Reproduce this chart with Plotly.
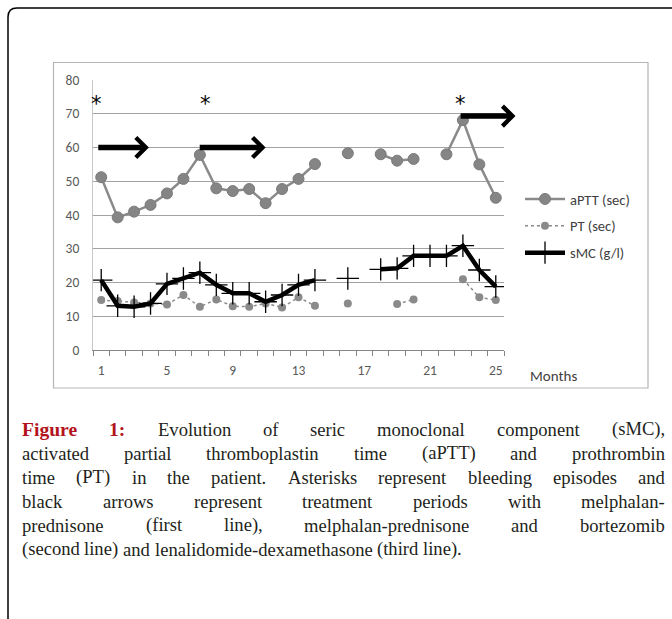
import plotly.graph_objects as go

# ---------------- data ----------------
months = list(range(1, 26))
aptt = [51.2, 39.3, 41.0, 43.0, 46.4, 50.7, 57.8, 47.9, 47.1, 47.7, 43.5, 47.7, 50.7, 55.1,
        None, 58.3, None, 58.0, 56.1, 56.6, None, 58.0, 68.1, 55.0, 45.1]
pt = [14.8, 14.5, 14.1, 13.8, 13.5, 16.3, 12.8, 15.0, 13.0, 12.8, 13.8, 12.6, 15.6, 13.1,
      None, 13.8, None, None, 13.6, 15.0, None, None, 21.0, 15.6, 14.8]
smc = [20.7, 13.1, 12.8, 13.8, 19.6, 21.2, 22.9, 19.3, 16.8, 16.8, 14.3, 16.3, 19.3, 20.7,
       None, 21.2, None, 23.9, 24.2, 27.9, 27.9, 27.9, 30.9, 23.7, 18.8]

bleed_x = [0.73, 7.32, 22.87]
bleed_y = [74.3, 74.3, 74.3]

arrow_start = [0.73, 6.9, 22.77]
arrow_end = [3.9, 11.0, 26.2]
arrow_y = [60, 60, 69.3]

x_tick_vals = [1, 5, 9, 13, 17, 21, 25]
y_tick_vals = [0, 10, 20, 30, 40, 50, 60, 70, 80]

series_names = ["aPTT (sec)", "PT (sec)", "sMC (g/l)"]

caption_lines = [
    "Figure 1: Evolution of seric monoclonal component (sMC),",
    "activated partial thromboplastin time (aPTT) and prothrombin",
    "time (PT) in the patient. Asterisks represent bleeding episodes and",
    "black arrows represent treatment periods with melphalan-",
    "prednisone (first line), melphalan-prednisone and bortezomib",
    "(second line) and lenalidomide-dexamethasone (third line).",
]
caption_bold_words = 2

# ---------------- geometry helpers ----------------
W, H = 672, 619
L, R, T, B = 93, 504, 80, 350


def pxx(x):
    return (x - L) / (R - L)


def pyy(y):
    return (B - y) / (B - T)


SANS = "Carlito, Lato, sans-serif"
TICK_FONT = dict(family=SANS, size=13.5, color="#595959")
GRAY = "#8a8a8a"

fig = go.Figure()

fig.add_trace(go.Scatter(
    x=months, y=aptt, name=series_names[0], mode="lines+markers",
    line=dict(color=GRAY, width=2.5),
    marker=dict(color="#858585", size=11, line=dict(color="#7a7a7a", width=1)),
    connectgaps=False, legendgroup="a"))
fig.add_trace(go.Scatter(
    x=months, y=pt, name=series_names[1], mode="lines+markers",
    line=dict(color=GRAY, width=1.5, dash="dot"),
    marker=dict(color="#8a8a8a", size=8),
    connectgaps=False, legendgroup="b"))
fig.add_trace(go.Scatter(
    x=months, y=smc, name=series_names[2], mode="lines+markers",
    line=dict(color="black", width=4.5),
    marker=dict(symbol="cross-thin", size=16, color="black", line=dict(color="black", width=1.3)),
    connectgaps=False, legendgroup="c"))

annotations = []

# bleeding episodes (asterisks)
for bx, by in zip(bleed_x, bleed_y):
    annotations.append(dict(x=bx, y=by, xref="x", yref="y", text="*", showarrow=False,
                            font=dict(family="DejaVu Sans", size=21, color="black"),
                            yshift=-5))

# treatment arrows
for s, e, y in zip(arrow_start, arrow_end, arrow_y):
    annotations.append(dict(x=e, y=y, ax=s, ay=y, xref="x", yref="y", axref="x", ayref="y",
                            text="", showarrow=True, arrowhead=4, arrowwidth=5.5,
                            arrowsize=0.7, arrowcolor="black", standoff=0))

# Months label
annotations.append(dict(x=pxx(528), y=pyy(376), xref="paper", yref="paper", text="Months",
                        xanchor="left", yanchor="middle", showarrow=False,
                        font=dict(family=SANS, size=15, color="#404040")))

# ---------------- caption (justified) ----------------
TR = {' ': 250, '!': 333, '(': 333, ')': 333, ',': 250, '-': 333, '.': 250, '/': 278, ':': 278,
      'A': 722, 'B': 667, 'C': 667, 'D': 722, 'E': 611, 'F': 556, 'G': 722, 'H': 722, 'I': 333,
      'J': 389, 'K': 722, 'L': 611, 'M': 889, 'N': 722, 'O': 722, 'P': 556, 'Q': 722, 'R': 667,
      'S': 556, 'T': 611, 'U': 722, 'V': 722, 'W': 944, 'X': 722, 'Y': 722, 'Z': 611,
      'a': 444, 'b': 500, 'c': 444, 'd': 500, 'e': 444, 'f': 333, 'g': 500, 'h': 500, 'i': 278,
      'j': 278, 'k': 500, 'l': 278, 'm': 778, 'n': 500, 'o': 500, 'p': 500, 'q': 500, 'r': 333,
      's': 389, 't': 278, 'u': 500, 'v': 500, 'w': 722, 'x': 500, 'y': 500, 'z': 444}
TB = dict(TR)
TB.update({'F': 611, 'g': 500, 'u': 556, 'r': 444, 'e': 444, ':': 333, 'i': 278, '1': 500})

CAP_SIZE = 18.6
CAP_FONT = "Liberation Serif"
cap_left, cap_right = 21, 664
cap_y0, cap_dy = 429, 24


def word_w(w, bold):
    tbl = TB if bold else TR
    return sum(tbl.get(c, 500) for c in w) / 1000 * (CAP_SIZE + (1 if bold else 0))


for li, line in enumerate(caption_lines):
    words = line.split(" ")
    yc = cap_y0 + li * cap_dy
    bold_flags = [(li == 0 and wi < caption_bold_words) for wi in range(len(words))]
    widths = [word_w(w, b) for w, b in zip(words, bold_flags)]
    if li == len(caption_lines) - 1:
        gap = TR[' '] / 1000 * CAP_SIZE
    else:
        gap = (cap_right - cap_left - sum(widths)) / (len(words) - 1)
    xpos = cap_left
    for w, b, ww in zip(words, bold_flags, widths):
        annotations.append(dict(
            x=pxx(xpos), y=pyy(yc), xref="paper", yref="paper", xanchor="left", yanchor="middle",
            text=f"<b>{w}</b>" if b else w, showarrow=False, borderpad=0,
            font=dict(family=CAP_FONT, size=CAP_SIZE + (1 if b else 0),
                      color="#b3141c" if b else "#231f20")))
        xpos += ww + gap

# ---------------- shapes ----------------
shapes = []
fx, fy, rr = 8, 8, 9
path = (f"M {pxx(fx)},{pyy(H + 10)} L {pxx(fx)},{pyy(fy + rr)} "
        f"Q {pxx(fx)},{pyy(fy)} {pxx(fx + rr)},{pyy(fy)} L {pxx(W + 10)},{pyy(fy)}")
shapes.append(dict(type="path", path=path, xref="paper", yref="paper",
                   line=dict(color="black", width=1.5), layer="above"))
shapes.append(dict(type="rect", xref="paper", yref="paper", x0=pxx(53.5), x1=pxx(648),
                   y0=pyy(388), y1=pyy(62.5), line=dict(color="#b5b5b5", width=1.2),
                   layer="below"))

fig.update_layout(
    width=W, height=H,
    margin=dict(l=L, r=W - R, t=T, b=H - B),
    paper_bgcolor="white", plot_bgcolor="white",
    showlegend=True,
    legend=dict(x=pxx(520), y=pyy(183), xanchor="left", yanchor="top",
                font=dict(family=SANS, size=14.5, color="#404040"),
                itemwidth=40, tracegroupgap=5, bgcolor="rgba(0,0,0,0)", borderwidth=0),
    annotations=annotations,
    shapes=shapes,
    xaxis=dict(range=[0.5, 25.5], tickmode="array", tickvals=x_tick_vals,
               ticktext=[str(v) for v in x_tick_vals], ticks="", showgrid=False,
               zeroline=False, showline=True, linecolor="#868686", linewidth=1.3,
               tickfont=TICK_FONT, ticklabelstandoff=8,
               minor=dict(tickmode="linear", tick0=0.5, dtick=1, ticks="outside",
                          ticklen=5, tickcolor="#868686", tickwidth=1, showgrid=False)),
    yaxis=dict(range=[0, 80], tickmode="array", tickvals=y_tick_vals, ticks="",
               showgrid=True, gridcolor="#a3a3a3", gridwidth=1.3, zeroline=False,
               showline=True, linecolor="#c8c8c8", linewidth=1,
               tickfont=TICK_FONT, ticklabelstandoff=10),
)

fig.write_html("out.html", config={"displayModeBar": False},
               post_script="document.body.style.margin='0';document.body.style.padding='0';")
